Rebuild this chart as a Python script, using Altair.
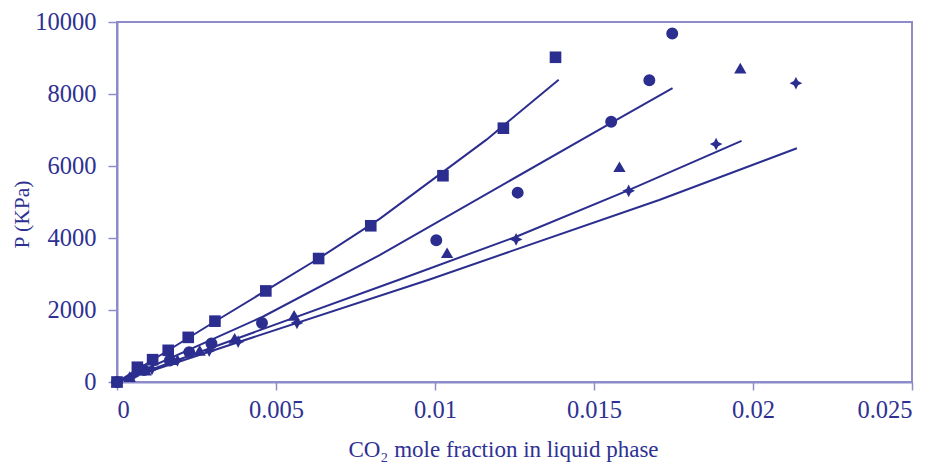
import altair as alt
import pandas as pd

# Data
sq_x = [0, 0.00064, 0.00112, 0.00161, 0.00224, 0.00308, 0.00468, 0.00634, 0.00798, 0.01025, 0.01215, 0.01379]
sq_y = [0, 410, 620, 880, 1240, 1690, 2530, 3430, 4340, 5730, 7050, 9020]

ci_x = [0, 0.00085, 0.00166, 0.00227, 0.00297, 0.00456, 0.01004, 0.01260, 0.01554, 0.01674, 0.01746]
ci_y = [0, 330, 600, 830, 1070, 1640, 3940, 5260, 7230, 8380, 9680]

tr_x = [0, 0.0004, 0.0009, 0.0017, 0.0026, 0.0037, 0.00557, 0.01038, 0.0158, 0.0196]
tr_y = [0, 150, 330, 620, 880, 1210, 1850, 3590, 5980, 8720]

di_x = [0, 0.0005, 0.0011, 0.0019, 0.0029, 0.00381, 0.00566, 0.01255, 0.01609, 0.01884, 0.02135]
di_y = [0, 160, 360, 600, 870, 1120, 1640, 3960, 5310, 6610, 8300]

series_names = ["A", "B", "C", "D"]

# model curves
l1_x = [0, 0.00308, 0.00634, 0.00826, 0.01161, 0.01389]
l1_y = [0, 1680, 3430, 4530, 6725, 8395]
l2_x = [0, 0.0046, 0.00826, 0.01554, 0.01747]
l2_y = [0, 1820, 3525, 7200, 8164]
l3_x = [0, 0.00889, 0.01255, 0.01609, 0.01964]
l3_y = [0, 2849, 4035, 5330, 6697]
l4_x = [0, 0.00983, 0.01705, 0.02138]
l4_y = [0, 2849, 5057, 6494]

x_ticks = [0, 0.005, 0.01, 0.015, 0.02, 0.025]
y_ticks = [0, 2000, 4000, 6000, 8000, 10000]

NAVY = "#2b2e8e"
TEXT = "#2e3192"
FRAME = "#8c8cc8"
FONT = "Liberation Serif"
STAR = "M0,-1L0.34,-0.34L1,0L0.34,0.34L0,1L-0.34,0.34L-1,0L-0.34,-0.34Z"

rows = []
for name, xs, ys in zip(series_names, [sq_x, ci_x, tr_x, di_x], [sq_y, ci_y, tr_y, di_y]):
    for xv, yv in zip(xs, ys):
        rows.append({"series": name, "x": xv, "y": yv})
points = pd.DataFrame(rows)

lrows = []
for name, xs, ys in zip(series_names, [l1_x, l2_x, l3_x, l4_x], [l1_y, l2_y, l3_y, l4_y]):
    for i, (xv, yv) in enumerate(zip(xs, ys)):
        lrows.append({"series": name, "x": xv, "y": yv, "order": i})
lines = pd.DataFrame(lrows)

x_scale = alt.Scale(domain=[0, 0.025], nice=False, zero=False)
y_scale = alt.Scale(domain=[0, 10000], nice=False)

x_axis = alt.Axis(
    values=x_ticks, format="~g", title="CO₂ mole fraction in liquid phase",
    grid=False, tickSize=8, labelPadding=8, labelFontSize=24.5,
    labelFont=FONT, titleFont=FONT, labelColor=TEXT, titleColor=TEXT,
    domainColor=FRAME, domainWidth=2, tickColor=FRAME, tickWidth=1.5,
    titleFontSize=23, titleFontWeight="normal", titleX=386, titleY=74,
    titleBaseline="alphabetic", titleAnchor="start", titleAlign="center",
)
y_axis = alt.Axis(
    values=y_ticks, format="d", title="P (KPa)",
    grid=False, tickSize=9, labelPadding=12, labelFontSize=24.5,
    labelFont=FONT, titleFont=FONT, labelColor=TEXT, titleColor=TEXT,
    domainColor=FRAME, domainWidth=2, tickColor=FRAME, tickWidth=1.5,
    titleFontSize=21.5, titleFontWeight="normal", titleX=-89, titleY=192,
    titleAngle=270, titleBaseline="alphabetic", titleAlign="center",
)

line_layer = alt.Chart(lines).mark_line(color=NAVY, strokeWidth=2).encode(
    x=alt.X("x:Q", scale=x_scale, axis=x_axis),
    y=alt.Y("y:Q", scale=y_scale, axis=y_axis),
    detail="series:N",
    order="order:Q",
)

point_layer = alt.Chart(points).mark_point(filled=True, opacity=1, color=NAVY).encode(
    x=alt.X("x:Q", scale=x_scale),
    y=alt.Y("y:Q", scale=y_scale),
    shape=alt.Shape("series:N", legend=None,
                    scale=alt.Scale(domain=series_names,
                                    range=["square", "circle", "triangle-up", STAR])),
    size=alt.Size("series:N", legend=None,
                  scale=alt.Scale(domain=series_names, range=[135, 160, 140, 180])),
)

chart = alt.layer(line_layer, point_layer).properties(
    width=795, height=360,
    background="white",
    autosize=alt.AutoSizeParams(type="none"),
    padding={"left": 109, "top": 14, "right": 20, "bottom": 80},
).configure_view(
    stroke=FRAME, strokeWidth=2,
)

chart.save("out.html", embed_options={"renderer": "svg", "actions": False})
